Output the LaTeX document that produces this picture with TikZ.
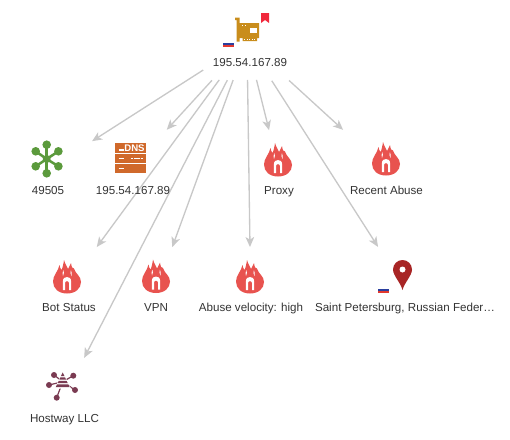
\documentclass[tikz,border=0pt]{standalone}
\usepackage{fontspec}
\setmainfont{Liberation Sans}
\usetikzlibrary{arrows.meta}
\definecolor{edgegray}{HTML}{C8C8C8}
\definecolor{textgray}{HTML}{333333}
\definecolor{flamered}{HTML}{E8534F}
\definecolor{cardorange}{HTML}{C98D1C}
\definecolor{tagred}{HTML}{F0283C}
\definecolor{pinred}{HTML}{A82525}
\definecolor{asgreen}{HTML}{5B9A3C}
\definecolor{dnsorange}{HTML}{D0692B}
\definecolor{orgplum}{HTML}{7A3B52}
\definecolor{flagblue}{HTML}{2A3F9E}
\definecolor{flagred}{HTML}{E2392F}
\newcommand{\linkup}[4]{\draw[edge,shorten <=#3*0.75pt,shorten >=#4*0.75pt] (#1) -- (#2);}
\tikzset{
  edge/.style={draw=edgegray,line width=1pt,-{Stealth[length=7.5pt,width=6.5pt,inset=2pt]}},
  hold/.style={circle,inner sep=0pt,minimum size=0pt,outer sep=0pt},
  lbl/.style={font=\fontsize{8.7}{11}\selectfont,text=textgray,inner sep=0pt,anchor=base},
  flag/.pic={
    \fill[gray!25] (-5.6,-3.3) rectangle (5.6,3.3);
    \fill[white] (-5.2,-3) rectangle (5.2,-1);
    \fill[flagblue] (-5.2,-1) rectangle (5.2,1);
    \fill[flagred] (-5.2,1) rectangle (5.2,3);
  },
  flame/.pic={
    \fill[flamered] (0,16.5) .. controls (-8.5,16.5) and (-14,11.5) .. (-14,4.5)
      .. controls (-14,-2) and (-9,-5) .. (-7.5,-12)
      .. controls (-7,-9) and (-6.5,-8) .. (-5.2,-7)
      .. controls (-4.5,-10) and (-3.5,-13) .. (-3,-17)
      .. controls (-2,-13) and (0,-11) .. (1,-8)
      .. controls (2,-10) and (3,-12) .. (4,-14)
      .. controls (4.5,-10) and (5.5,-8) .. (7,-8.5)
      .. controls (8.5,-3) and (14,-1) .. (14,5)
      .. controls (14,11.5) and (8.5,16.5) .. (0,16.5) -- cycle;
    \fill[white] (-4.2,13) -- (-4.2,5) .. controls (-4.2,1) and (-2,0) .. (0,0)
      .. controls (2,0) and (4.2,1) .. (4.2,5) -- (4.2,13) -- (2,13) -- (2,6)
      .. controls (2,3.5) and (-2,3.5) .. (-2,6) -- (-2,13) -- cycle;
    \fill[white] (-4,-1) .. controls (-5,-3) and (-4.3,-5) .. (-3.6,-7)
      .. controls (-3,-5) and (-2.8,-3) .. (-4,-1) -- cycle;
    \fill[white] (4.5,-1) .. controls (5.2,-3) and (4.6,-5) .. (3.9,-7)
      .. controls (3.3,-5) and (3.2,-3) .. (4.5,-1) -- cycle;
  },
  card/.pic={
    \fill[cardorange] (-12,-24.5) -- (-7.5,-24.5) -- (-7.5,-19) -- (12,-19) -- (12,-4) -- (10,-4) -- (10,-1) -- (-4.5,-1) -- (-4.5,-4) -- (-7.5,-4) -- (-7.5,-0.5) -- (-10.5,-0.5) -- (-10.5,-22) -- (-12,-22) -- cycle;
    \fill[white] (3,-14) rectangle (10,-9);
    \foreach \xx in {-3,-0.5,2,4.5,7}{\fill[white] (\xx,-3.4) rectangle (\xx+1,-2.4);}
    \foreach \xx in {-5.5,-2.5}{\fill[white] (\xx,-17) rectangle (\xx+1.2,-15.8);}
  },
  pin/.pic={
    \fill[pinred] (0,20.5) .. controls (-2,13) and (-9.5,6) .. (-9.5,0)
      .. controls (-9.5,-5.5) and (-5,-9.5) .. (0,-9.5)
      .. controls (5,-9.5) and (9.5,-5.5) .. (9.5,0)
      .. controls (9.5,6) and (2,13) .. (0,20.5) -- cycle;
    \fill[white] (0,0) circle[radius=3];
  },
  asn/.pic={
    \foreach \xx/\yy in {0/-14.3,11.7/-7.7,11.7/7.3,0/14.3,-11/7.3,-11/-7.7}{
      \draw[asgreen,line width=1.9pt] (0,0) -- (\xx,\yy);
      \fill[asgreen] (\xx,\yy) circle[radius=4.3];
    }
    \fill[asgreen] (0,0) circle[radius=4];
  },
  dnsrack/.pic={
    \fill[dnsorange] (-15.5,-15) rectangle (15.5,15);
    \draw[white,line width=0.6pt] (-15.5,-4.5) -- (15.5,-4.5) (-15.5,5) -- (15.5,5);
    \draw[white,line width=1pt] (-12,-8) -- (-7,-8) (-12,0.5) -- (-7,0.5) (-12,10.5) -- (-7,10.5);
    \node[font=\bfseries\fontsize{7.2}{8}\selectfont,text=white,inner sep=0pt] at (4,-9.5) {DNS};
    \draw[white,line width=0.9pt,dash pattern=on 2pt off 0.5pt] (0,0.5) -- (13,0.5);
  },
  orgnet/.pic={
    \foreach \xx/\yy in {-8.7/-6.7,10.6/-6,-13.7/3.3,12.3/8.3,-6/16}{
      \draw[orgplum,line width=0.9pt] (0,0) -- (\xx,\yy);
      \fill[orgplum] (\xx,\yy) circle[radius=3];
    }
    \fill[white] (0,-10) -- (8.3,7) -- (-8.3,7) -- cycle;
    \fill[orgplum] (0,-9.3) -- (1.8,-5.5) -- (-1.8,-5.5) -- cycle;
    \fill[orgplum] (-2.3,-4.3) -- (2.3,-4.3) -- (3.4,-2) -- (-3.4,-2) -- cycle;
    \fill[orgplum] (-4,-0.8) -- (4,-0.8) -- (5.1,1.5) -- (-5.1,1.5) -- cycle;
    \fill[orgplum] (-5.7,2.7) -- (5.7,2.7) -- (7,5.5) -- (-7,5.5) -- cycle;
  }
}
\begin{document}
\begin{tikzpicture}[x=0.75pt,y=-0.75pt]
\useasboundingbox (0,0) rectangle (510,439);
% anchor nodes the connectors run between
\node[hold] (hub) at (247,42) {};
\node[hold] (asn) at (47,170) {};
\node[hold] (dns) at (130,170) {};
\node[hold] (proxy) at (279,170) {};
\node[hold] (recent) at (387,170) {};
\node[hold] (bot) at (66,289) {};
\node[hold] (vpn) at (157,289) {};
\node[hold] (velocity) at (250.6,289) {};
\node[hold] (city) at (405,289) {};
\node[hold] (host) at (64,397) {};
% connectors
\linkup{hub}{asn}{52}{53.5}
\linkup{hub}{dns}{52}{54.5}
\linkup{hub}{bot}{47}{52}
\linkup{hub}{host}{43}{44}
\linkup{hub}{vpn}{40.5}{44.6}
\linkup{hub}{velocity}{38}{42}
\linkup{hub}{proxy}{39}{41}
\linkup{hub}{city}{46}{50}
\linkup{hub}{recent}{57}{59.5}
% icons
\pic at (247,42) {card};
\fill[tagred] (261,13) -- (269,13) -- (269,23) -- (265,20) -- (261,23) -- cycle;
\pic at (228.5,44) {flag};
\pic at (46.7,159) {asn};
\pic at (130.5,158) {dnsrack};
\pic at (278,160) {flame};
\pic at (386,159) {flame};
\pic at (67,277) {flame};
\pic at (156,276.5) {flame};
\pic at (250,277) {flame};
\pic at (402.5,269.5) {pin};
\pic at (383.5,290) {flag};
\pic at (62.7,381.7) {orgnet};
% labels
\node[lbl] (hubl) at (250,66) {195.54.167.89};
\node[lbl] (asnl) at (48,194) {49505};
\node[lbl] (dnsl) at (133,194) {195.54.167.89};
\node[lbl] (proxyl) at (279,194) {Proxy};
\node[lbl] (recentl) at (386.5,194) {Recent Abuse};
\node[lbl] (botl) at (69,311) {Bot Status};
\node[lbl] (vpnl) at (156,311) {VPN};
\node[lbl] (velocityl) at (251,311) {Abuse velocity: high};
\node[lbl] (cityl) at (405,311) {Saint Petersburg, Russian Feder…};
\node[lbl] (hostl) at (64.5,422) {Hostway LLC};
\end{tikzpicture}
\end{document}
